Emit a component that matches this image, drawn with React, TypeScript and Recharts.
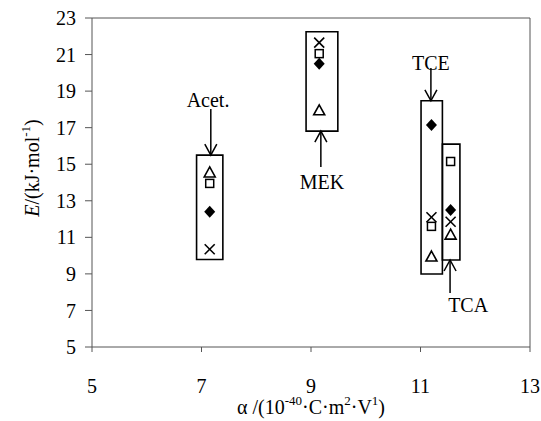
import { ScatterChart, Scatter, XAxis, YAxis, ReferenceArea, ReferenceLine, ReferenceDot } from "recharts"

const FONT = "Liberation Serif, Tinos, Times New Roman, DejaVu Serif, serif"

// compounds and their polarizability (x)
const compounds = ["Acet.", "MEK", "TCE", "TCA"]
const alpha = [7.15, 9.15, 11.2, 11.55]

// activation energies per marker series
const eDiamond = [12.4, 20.5, 17.15, 12.5]
const eSquare = [13.95, 21.05, 11.6, 15.15]
const eTriangle = [14.55, 17.95, 9.95, 11.15]
const eCross = [10.35, 21.65, 12.1, 11.85]

// boxes around each compound group
const boxX1 = [6.91, 8.91, 11.01, 11.4]
const boxX2 = [7.39, 9.49, 11.4, 11.72]
const boxY1 = [9.79, 16.81, 8.99, 9.76]
const boxY2 = [15.5, 22.25, 18.47, 16.1]

// label + arrow positions
const labelX = [7.12, 9.2, 11.19, 11.87]
const labelY = [18.51, 14.04, 20.55, 7.3]
const arrowX = [7.17, 9.18, 11.19, 11.54]
const arrowFrom = [18.02, 14.85, 20.26, 7.95]
const arrowTo = [15.5, 16.81, 18.47, 9.76]

const xTicks = [5, 7, 9, 11, 13]
const yTicks = [5, 7, 9, 11, 13, 15, 17, 19, 21, 23]

const toPoints = (vals: number[]) => alpha.map((a, i) => ({ x: a, y: vals[i] }))

const Diamond = (p: any) => (
  <path d={`M${p.cx},${p.cy - 6} L${p.cx + 5.5},${p.cy} L${p.cx},${p.cy + 6} L${p.cx - 5.5},${p.cy} Z`} fill="#000" />
)
const Square = (p: any) => (
  <rect x={p.cx - 4} y={p.cy - 4} width={8} height={8} fill="#fff" stroke="#000" strokeWidth={1.5} />
)
const Triangle = (p: any) => (
  <path d={`M${p.cx},${p.cy - 5.5} L${p.cx + 5.5},${p.cy + 4.5} L${p.cx - 5.5},${p.cy + 4.5} Z`} fill="#fff" stroke="#000" strokeWidth={1.6} />
)
const Cross = (p: any) => (
  <g stroke="#000" strokeWidth={1.6}>
    <line x1={p.cx - 5} y1={p.cy - 5} x2={p.cx + 5} y2={p.cy + 5} />
    <line x1={p.cx - 5} y1={p.cy + 5} x2={p.cx + 5} y2={p.cy - 5} />
  </g>
)

const Arrow = (p: any) => {
  const { x1, y1, x2, y2 } = p
  const dir = y2 > y1 ? 1 : -1
  return (
    <g stroke="#000" strokeWidth={1.5} fill="none">
      <line x1={x1} y1={y1} x2={x2} y2={y2} />
      <polyline points={`${x2 - 6},${y2 - dir * 11} ${x2},${y2} ${x2 + 6},${y2 - dir * 11}`} />
    </g>
  )
}

const XLabel = () => (
  <text x={311} y={414} textAnchor="middle" style={{ fontFamily: FONT }} fontSize={20} fill="#000">
    <tspan>α /(10</tspan>
    <tspan fontSize={13} dy={-9}>-40</tspan>
    <tspan dy={9}>·C·m</tspan>
    <tspan fontSize={13} dy={-9}>2</tspan>
    <tspan dy={9}>·V</tspan>
    <tspan fontSize={13} dy={-9}>1</tspan>
    <tspan dy={9}>)</tspan>
  </text>
)

const YLabel = () => (
  <text x={39} y={168} transform="rotate(-90, 39, 168)" textAnchor="middle" style={{ fontFamily: FONT }} fontSize={20} fill="#000">
    <tspan fontStyle="italic">E</tspan>
    <tspan>/(kJ·mol</tspan>
    <tspan fontSize={13} dy={-9}>-1</tspan>
    <tspan dy={9}>)</tspan>
  </text>
)

export default function App() {
  const tick = { fontSize: 20, fill: "#000", style: { fontFamily: FONT } }
  return (
    <div style={{ position: "absolute", left: 0, top: 0, background: "#fff", fontFamily: FONT }}>
      <ScatterChart width={541} height={421} margin={{ top: 18, right: 11, bottom: 0, left: 0 }} style={{ fontFamily: FONT }}>
        <XAxis
          type="number"
          dataKey="x"
          domain={[5, 13]}
          ticks={xTicks}
          allowDataOverflow
          height={74}
          tick={tick}
          tickSize={5}
          tickMargin={27}
          stroke="#555"
          label={<XLabel />}
        />
        <YAxis
          type="number"
          dataKey="y"
          domain={[5, 23]}
          ticks={yTicks}
          allowDataOverflow
          width={92}
          tick={tick}
          tickSize={7}
          tickMargin={9}
          stroke="#555"
          label={<YLabel />}
        />
        <ReferenceLine y={23} stroke="#555" />
        <ReferenceLine x={13} stroke="#555" />
        {compounds.map((c, i) => (
          <ReferenceArea
            key={"box" + c}
            x1={boxX1[i]}
            x2={boxX2[i]}
            y1={boxY1[i]}
            y2={boxY2[i]}
            fill="none"
            fillOpacity={0}
            stroke="#000"
            strokeWidth={1.6}
          />
        ))}
        {compounds.map((c, i) => (
          <ReferenceLine
            key={"arrow" + c}
            segment={[
              { x: arrowX[i], y: arrowFrom[i] },
              { x: arrowX[i], y: arrowTo[i] },
            ]}
            shape={Arrow}
          />
        ))}
        {compounds.map((c, i) => (
          <ReferenceDot
            key={"label" + c}
            x={labelX[i]}
            y={labelY[i]}
            r={0}
            shape={(p: any) => (
              <text x={p.cx} y={p.cy} textAnchor="middle" dominantBaseline="central" style={{ fontFamily: FONT }} fontSize={20} fill="#000">
                {c}
              </text>
            )}
          />
        ))}
        <Scatter data={toPoints(eDiamond)} shape={Diamond} isAnimationActive={false} />
        <Scatter data={toPoints(eSquare)} shape={Square} isAnimationActive={false} />
        <Scatter data={toPoints(eTriangle)} shape={Triangle} isAnimationActive={false} />
        <Scatter data={toPoints(eCross)} shape={Cross} isAnimationActive={false} />
      </ScatterChart>
    </div>
  )
}
